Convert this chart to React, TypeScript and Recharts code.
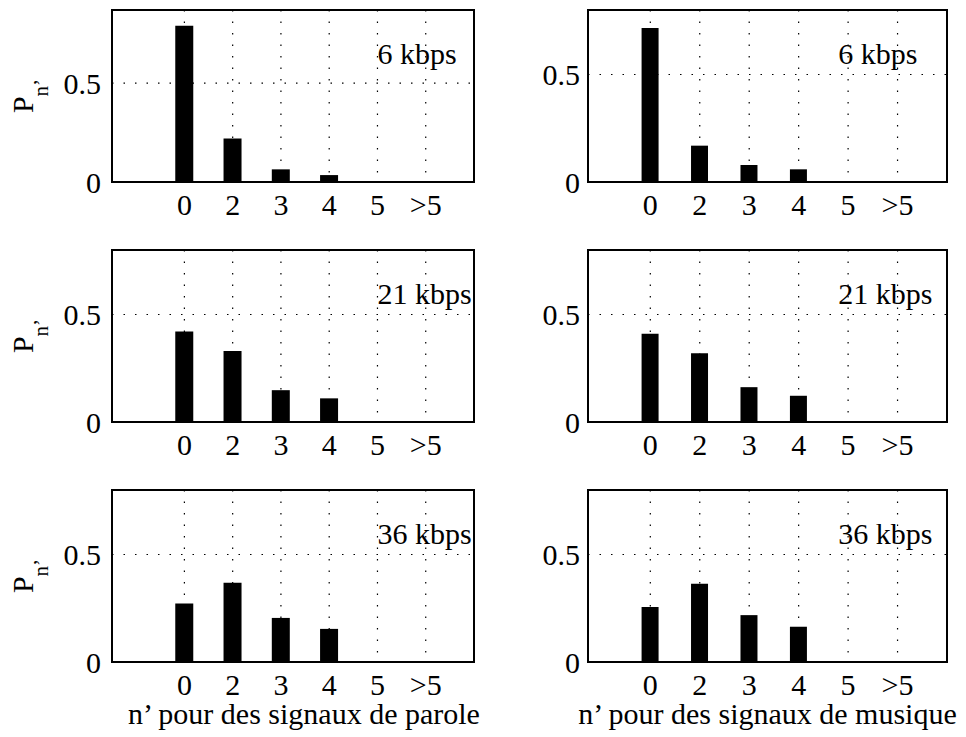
import React from 'react';
import { BarChart, Bar, XAxis, YAxis, CartesianGrid, ReferenceArea, ReferenceDot } from 'recharts';

const FONT = '"Liberation Serif", "DejaVu Serif", serif';

// ---- data ----
const categories = ['0', '2', '3', '4', '5', '>5'];
const yTicks = [0, 0.5];
const rates = ['6 kbps', '21 kbps', '36 kbps'];

const parole6 = [0.79, 0.22, 0.064, 0.035, 0, 0];
const parole21 = [0.421, 0.33, 0.148, 0.11, 0, 0];
const parole36 = [0.272, 0.369, 0.205, 0.154, 0, 0];
const musique6 = [0.716, 0.169, 0.079, 0.059, 0, 0];
const musique21 = [0.41, 0.32, 0.162, 0.122, 0, 0];
const musique36 = [0.256, 0.364, 0.218, 0.164, 0, 0];

const xLabels = ['n\u2019 pour des signaux de parole', 'n\u2019 pour des signaux de musique'];
const yLabelMain = 'P';
const yLabelSub = 'n\u2019';

const seriesGrid = [
  [parole6, musique6],
  [parole21, musique21],
  [parole36, musique36],
];
const yMaxGrid = [
  [0.87, 0.8],
  [0.8, 0.8],
  [0.8, 0.8],
];

// ---- layout (styling only) ----
const columns = [
  { left: 0, width: 500, mLeft: 12, mRight: 26, domain: [-0.5, 7], textX: 5.0, barSize: 18, tickMargin: 5, labelShift: 11 },
  { left: 480, width: 486, mLeft: 8, mRight: 19, domain: [-0.26, 7], textX: 4.8, barSize: 17, tickMargin: 2, labelShift: 0 },
];
const PLOT_H = 172;
const TOP_M = 10;

const xPositions = categories.map((_, i) => i + 1);
const textStyle = { fontFamily: FONT, fontSize: 30, fill: '#000' } as const;

const renderYLabel = (props: any) => {
  const vb = props && props.viewBox ? props.viewBox : { x: 12, y: 10, width: 100, height: PLOT_H };
  const cx = vb.x + 21;
  const cy = vb.y + vb.height / 2;
  return (
    <text x={cx} y={cy} transform={`rotate(-90 ${cx} ${cy})`} textAnchor="middle" style={textStyle}>
      {yLabelMain}
      <tspan style={{ fontSize: 21 }} dy={15}>{yLabelSub}</tspan>
    </text>
  );
};

const makeXLabel = (text: string, shift: number) => (props: any) => {
  const vb = props && props.viewBox ? props.viewBox : { x: 0, y: 0, width: 0, height: 0 };
  return (
    <text x={vb.x + vb.width / 2 + shift} y={vb.y + 62} textAnchor="middle" style={textStyle}>
      {text}
    </text>
  );
};

function Panel({ row, colIdx }: { row: number; colIdx: number }) {
  const col = columns[colIdx];
  const values = seriesGrid[row][colIdx];
  const yMax = yMaxGrid[row][colIdx];
  const data = categories.map((c, i) => ({ x: xPositions[i], name: c, v: values[i] }));
  const isBottom = row === 2;
  const xAxisH = isBottom ? 75 : 45;
  const height = TOP_M + PLOT_H + xAxisH;
  const textY = yMax * (1 - 53.5 / PLOT_H);
  return (
    <div style={{ position: 'absolute', left: col.left, top: row * 240, width: col.width, height }}>
      <BarChart
        width={col.width}
        height={height}
        data={data}
        margin={{ top: TOP_M, right: col.mRight, left: col.mLeft, bottom: 0 }}
        style={{ fontFamily: FONT }}
      >
        <CartesianGrid stroke="#000" strokeWidth={1.2} strokeDasharray="1.5 10" />
        <XAxis
          dataKey="x"
          type="number"
          scale="linear"
          domain={col.domain}
          allowDataOverflow
          ticks={xPositions}
          interval={0}
          tickFormatter={(v: number) => categories[v - 1]}
          axisLine={false}
          tickLine={false}
          tickSize={6}
          tickMargin={6}
          height={xAxisH}
          tick={{ fill: '#000', fontSize: 30, fontFamily: FONT, style: { fontFamily: FONT } }}
          label={isBottom ? { content: makeXLabel(xLabels[colIdx], col.labelShift) } : undefined}
        />
        <YAxis
          type="number"
          domain={[0, yMax]}
          allowDataOverflow
          ticks={yTicks}
          interval={0}
          tickFormatter={(v: number) => String(v)}
          axisLine={false}
          tickLine={false}
          tickSize={6}
          tickMargin={col.tickMargin}
          width={100}
          tick={{ fill: '#000', fontSize: 30, fontFamily: FONT, style: { fontFamily: FONT } }}
          label={colIdx === 0 ? { content: renderYLabel } : undefined}
        />
        <Bar dataKey="v" fill="#000" barSize={col.barSize} isAnimationActive={false} />
        <ReferenceArea
          x1={col.domain[0]}
          x2={col.domain[1]}
          y1={0}
          y2={yMax}
          fill="none"
          fillOpacity={0}
          stroke="#000"
          strokeWidth={2}
          ifOverflow="visible"
        />
        <ReferenceDot
          x={col.textX}
          y={textY}
          r={0}
          ifOverflow="visible"
          shape={(p: any) => (
            <text x={p.cx} y={p.cy} style={textStyle}>
              {rates[row]}
            </text>
          )}
        />
      </BarChart>
    </div>
  );
}

export default function App() {
  return (
    <div style={{ position: 'absolute', left: 0, top: 0, width: 966, height: 737, background: '#fff', overflow: 'hidden', fontFamily: FONT }}>
      {[0, 1, 2].map((r) => (
        <React.Fragment key={r}>
          <Panel row={r} colIdx={0} />
          <Panel row={r} colIdx={1} />
        </React.Fragment>
      ))}
    </div>
  );
}
